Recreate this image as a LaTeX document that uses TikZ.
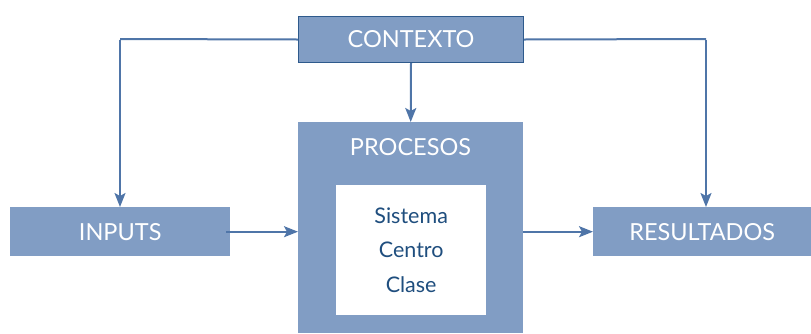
\documentclass[tikz,border=0pt]{standalone}
\usepackage{fontspec}
\setmainfont{Lato}
\usetikzlibrary{arrows.meta}
\definecolor{boxfill}{HTML}{819DC4}
\definecolor{linecol}{HTML}{4F75A8}
\definecolor{edgecol}{HTML}{2E5A8C}
\definecolor{textblue}{HTML}{1F4E7E}
\tikzset{
  blockbox/.style={fill=boxfill, draw=none, text=white, font=\fontsize{23.5}{26}\selectfont, inner sep=0pt, anchor=north west},
  link/.style={draw=linecol, line width=2pt, -{Stealth[length=14pt,width=11pt,inset=3pt]}},
  plain/.style={draw=linecol, line width=2pt}
}
\begin{document}
\begin{tikzpicture}[x=1pt,y=-1pt]
\useasboundingbox (0,0) rectangle (811,333);
% boxes
\node[blockbox, draw=edgecol, line width=1pt, minimum width=225pt, minimum height=46pt] (ctx) at (298,16) {CONTEXTO};
\node[blockbox, minimum width=225pt, minimum height=211pt] (proc) at (298,122) {};
\node[text=white, font=\fontsize{23.5}{26}\selectfont] (proct) at (410.5,147) {PROCESOS};
\node[fill=white, inner sep=0pt, anchor=north west, minimum width=150pt, minimum height=130pt,
      text=textblue, font=\fontsize{21.5}{34.5}\selectfont, align=center] (inner) at (336,185)
      {Sistema\\Centro\\Clase};
\node[blockbox, minimum width=220pt, minimum height=49pt] (in) at (10,207) {INPUTS};
\node[blockbox, minimum width=218pt, minimum height=49pt] (res) at (593,207) {RESULTADOS};
% connectors
\coordinate (lc) at (120,39);
\coordinate (rc) at (706,39);
\draw[plain] (ctx.west) -- (lc);
\draw[link] ([yshift=-1pt]lc) -- (in.north -| lc);
\draw[plain] (ctx.east) -- (rc);
\draw[link] ([yshift=-1pt]rc) -- (res.north -| rc);
\draw[link] (ctx.south) -- (proc.north);
\draw[link] ([xshift=-4pt]in.east) -- (proc.west |- in.east);
\draw[link] (proc.east |- res.west) -- (res.west);
\end{tikzpicture}
\end{document}
